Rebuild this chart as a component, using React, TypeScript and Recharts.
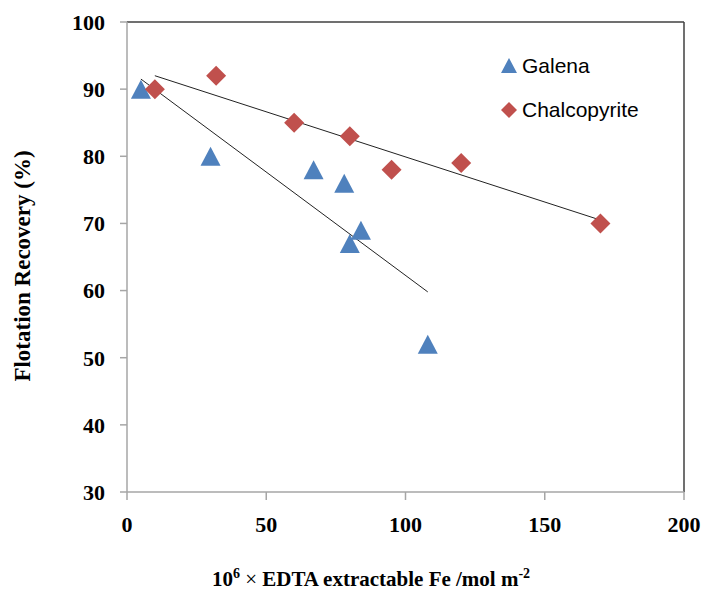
import { ScatterChart, Scatter, XAxis, YAxis, ZAxis, ReferenceLine, Label } from 'recharts'

// measured points
const galenaX = [5, 30, 67, 78, 80, 84, 108]
const galenaY = [90, 80, 78, 76, 67, 69, 52]
const chalcoX = [10, 32, 60, 80, 95, 120, 170]
const chalcoY = [90, 92, 85, 83, 78, 79, 70]

// linear trend line end points
const galenaFitX = [5, 108]
const galenaFitY = [91.5, 59.8]
const chalcoFitX = [10, 170]
const chalcoFitY = [92, 70.5]

const xTicks = [0, 50, 100, 150, 200]
const yTicks = [30, 40, 50, 60, 70, 80, 90, 100]

const BLUE = '#4f81bd'
const RED = '#c0504d'
const AXIS = '#a6a6a6'
const BOX = '#404040'
const SERIF = '"Liberation Serif", "Times New Roman", serif'
const SANS = '"Liberation Sans", Arial, sans-serif'

const zip = (xs: number[], ys: number[]) => xs.map((x, i) => ({ x, y: ys[i] }))

const galena = zip(galenaX, galenaY)
const chalco = zip(chalcoX, chalcoY)
const galenaFit = zip(galenaFitX, galenaFitY)
const chalcoFit = zip(chalcoFitX, chalcoFitY)

const Triangle = ({ cx, cy }: any) => (
  <polygon points={`${cx},${cy - 9.5} ${cx + 10},${cy + 9.5} ${cx - 10},${cy + 9.5}`} fill={BLUE} />
)

const Diamond = ({ cx, cy }: any) => (
  <polygon points={`${cx},${cy - 10} ${cx + 10},${cy} ${cx},${cy + 10} ${cx - 10},${cy}`} fill={RED} />
)

const NoMark = () => <g />

const tickStyle = { fontFamily: SERIF, fontWeight: 700, fontSize: 22, fill: '#000' }

// legend sits inside the plot box, top right
const LegendBox = () => (
  <div
    style={{
      position: 'absolute', left: 500, top: 44,
      fontFamily: SANS, fontSize: 21, color: '#000', lineHeight: '44px',
    }}
  >
    <div style={{ display: 'flex', alignItems: 'center' }}>
      <svg width={18} height={18} style={{ marginRight: 4 }}>
        <polygon points="9,1 17,16 1,16" fill={BLUE} />
      </svg>
      Galena
    </div>
    <div style={{ display: 'flex', alignItems: 'center' }}>
      <svg width={18} height={18} style={{ marginRight: 4 }}>
        <polygon points="9,1 17,9 9,17 1,9" fill={RED} />
      </svg>
      Chalcopyrite
    </div>
  </div>
)

const XTitle = () => (
  <text x={371} y={586} textAnchor="middle" fontFamily={SERIF} fontWeight={700} fontSize={21} fill="#000">
    10<tspan dy={-8} fontSize={14}>6</tspan>
    <tspan dy={8} fontWeight={400}> × </tspan>
    <tspan>EDTA extractable Fe /mol m</tspan>
    <tspan dy={-8} fontSize={14}>-2</tspan>
  </text>
)

const YTitle = () => (
  <text
    x={0}
    y={0}
    transform="translate(30,266) rotate(-90)"
    textAnchor="middle"
    fontFamily={SERIF}
    fontWeight={700}
    fontSize={23}
    fill="#000"
  >
    Flotation Recovery (%)
  </text>
)

export default function App() {
  return (
    <div style={{ position: 'absolute', left: 0, top: 0, width: 704, height: 592, background: '#fff' }}>
      <ScatterChart width={704} height={592} margin={{ top: 22, right: 20, bottom: 70, left: 67 }}>
        <XAxis
          type="number"
          dataKey="x"
          domain={[0, 200]}
          ticks={xTicks}
          interval={0}
          height={30}
          tickSize={8}
          tickMargin={16}
          axisLine={{ stroke: AXIS, strokeWidth: 1.5 }}
          tickLine={{ stroke: AXIS, strokeWidth: 1.5 }}
          tick={tickStyle}
        >
          <Label content={<XTitle />} />
        </XAxis>
        <YAxis
          type="number"
          dataKey="y"
          domain={[30, 100]}
          ticks={yTicks}
          interval={0}
          width={60}
          tickSize={7}
          tickMargin={15}
          axisLine={{ stroke: AXIS, strokeWidth: 1.5 }}
          tickLine={{ stroke: AXIS, strokeWidth: 1.5 }}
          tick={tickStyle}
        >
          <Label content={<YTitle />} />
        </YAxis>
        <ZAxis range={[100, 100]} />
        <ReferenceLine y={100} stroke={BOX} strokeWidth={1.5} />
        <ReferenceLine x={200} stroke={BOX} strokeWidth={1.5} />
        <Scatter
          data={galenaFit}
          line={{ stroke: '#222', strokeWidth: 1 }}
          shape={NoMark}
          legendType="none"
          isAnimationActive={false}
        />
        <Scatter
          data={chalcoFit}
          line={{ stroke: '#222', strokeWidth: 1 }}
          shape={NoMark}
          legendType="none"
          isAnimationActive={false}
        />
        <Scatter name="Galena" data={galena} shape={Triangle} isAnimationActive={false} />
        <Scatter name="Chalcopyrite" data={chalco} shape={Diamond} isAnimationActive={false} />
      </ScatterChart>
      <LegendBox />
    </div>
  )
}
